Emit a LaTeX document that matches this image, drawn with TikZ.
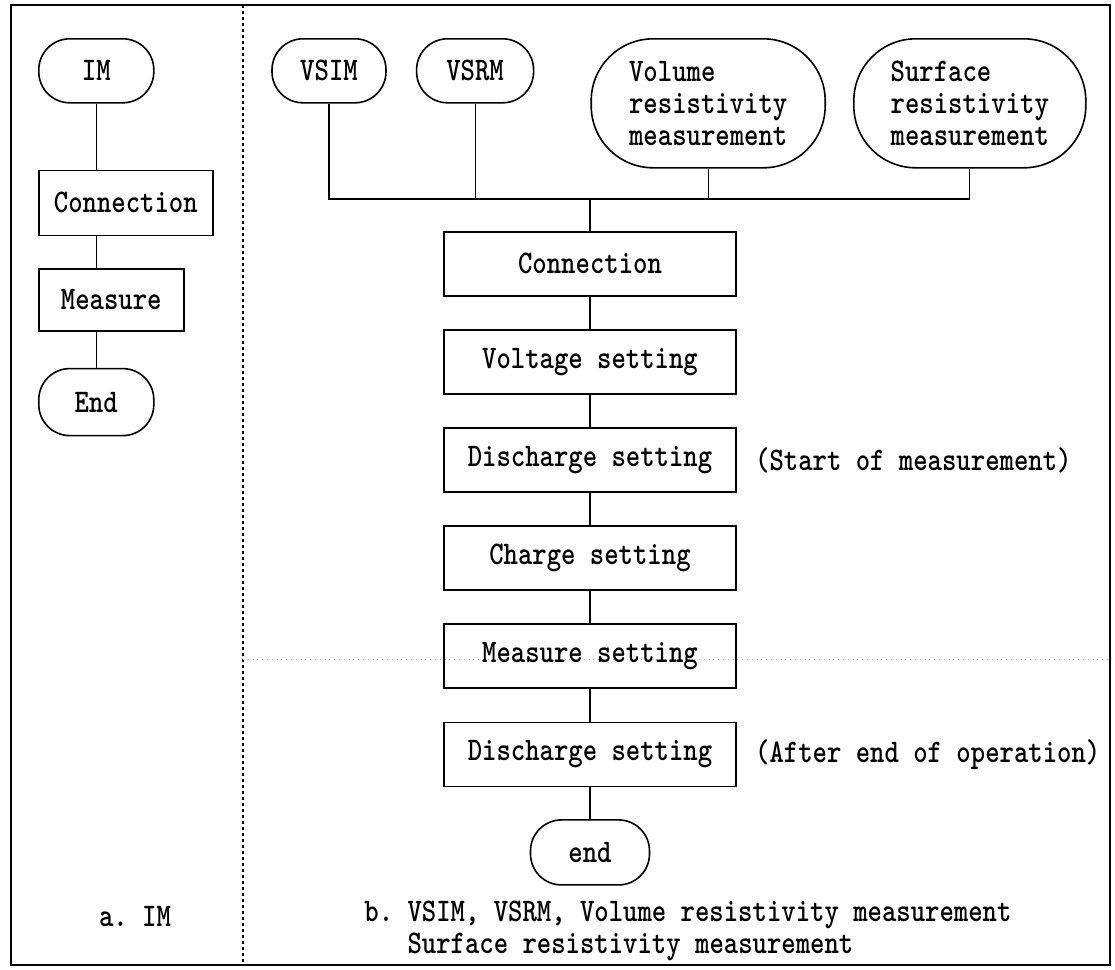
\documentclass[tikz,border=0pt]{standalone}
\usepackage{fontspec}
\newfontfamily\chartfont{lmmonolt10-bold}[Extension=.otf, FakeStretch=0.83]
\usetikzlibrary{positioning}

\begin{document}
\begin{tikzpicture}[
      x=0.5pt, y=-0.5pt,
      node distance=16pt,
      every node/.style={font=\chartfont\fontsize{16.5}{16}\selectfont, inner sep=0pt},
      term/.style={draw, line width=0.8pt, rounded corners=15.5pt, minimum width=57.5pt, minimum height=32pt, align=center},
      bigterm/.style={draw, line width=0.8pt, rounded corners=31pt, minimum height=64.5pt, align=left},
      stepbox/.style={draw, line width=0.8pt, minimum width=146pt, minimum height=32pt, align=center},
      link/.style={line width=0.6pt}
    ]
      \useasboundingbox (0,0) rectangle (1115,970);

      % frame and column divider
      \draw[line width=0.9pt] (11,5) rectangle (1110,965);
      \draw[line width=0.6pt, dash pattern=on 1.5pt off 1.5pt] (243,5) -- (243,965);
      \draw[gray!60, dotted, line width=0.4pt] (243,659) -- (1110,659);

      % a. IM
      \node[term, anchor=north west] (im) at (38,38) {IM};
      \node[stepbox, minimum width=87pt, minimum height=32.5pt, below=33pt of im.south west, anchor=north west] (lconn) {Connection};
      \node[stepbox, minimum width=72.5pt, minimum height=31pt, below=of lconn.south west, anchor=north west] (lmeas) {Measure};
      \node[term, minimum height=33.5pt, below=18pt of lmeas.south west, anchor=north west] (lend) {End};

      \draw[link] (im.south) -- (im.south |- lconn.north);
      \draw[link] (im.south |- lconn.south) -- (im.south |- lmeas.north);
      \draw[link] (im.south |- lmeas.south) -- (lend.north);

      \node (capa) at (135,917) {a.\ IM};

      % b. VSIM, VSRM, volume / surface resistivity
      \node[term, minimum width=57pt, anchor=north] (vsim) at (329,38) {VSIM};
      \node[term, minimum width=58.5pt, right=14.5pt of vsim.north east, anchor=north west] (vsrm) {VSRM};
      \node[bigterm, minimum width=117pt, right=28pt of vsrm.north east, anchor=north west] (vol) {Volume\\resistivity\\measurement};
      \node[bigterm, minimum width=116pt, right=13.5pt of vol.north east, anchor=north west] (surf) {Surface\\resistivity\\measurement};

      \coordinate (bus) at (590,199);

      \node[stepbox, anchor=north] (conn) at (590,231) {Connection};
      \node[stepbox, below=16.25pt of conn] (volt) {Voltage setting};
      \node[stepbox, below=16.25pt of volt] (dis1) {Discharge setting};
      \node[stepbox, below=16.25pt of dis1] (chg) {Charge setting};
      \node[stepbox, below=16.25pt of chg] (meas) {Measure setting};
      \node[stepbox, below=16.25pt of meas] (dis2) {Discharge setting};
      \node[term, minimum width=59.5pt, minimum height=32.5pt, below=of dis2] (fin) {end};

      \node[right=9pt of dis1] (startnote) {(Start of measurement)};
      \node[right=9pt of dis2] (afternote) {(After end of operation)};

      \draw[link] (vsim.south) |- (surf.south |- bus) -- (surf.south);
      \draw[link] (vsrm.south) -- (vsrm.south |- bus);
      \draw[link] (vol.south) -- (vol.south |- bus);
      \draw[link] (bus) -- (conn.north);
      \draw[link] (conn) -- (volt);
      \draw[link] (volt) -- (dis1);
      \draw[link] (dis1) -- (chg);
      \draw[link] (chg) -- (meas);
      \draw[link] (meas) -- (dis2);
      \draw[link] (dis2) -- (fin);

      \node[align=left, anchor=west] (capb) at (364,931) {b.\ VSIM,\ VSRM,\ Volume resistivity measurement\\\phantom{b.\ }Surface resistivity measurement};
    \end{tikzpicture}
\end{document}
